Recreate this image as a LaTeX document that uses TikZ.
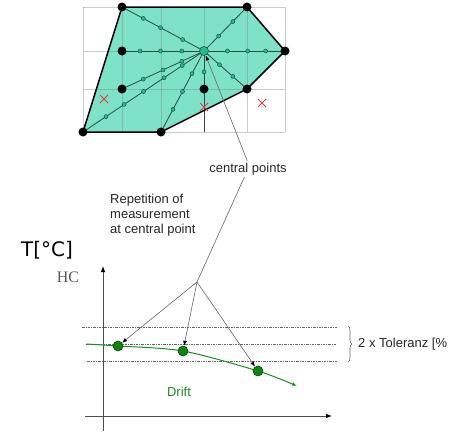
\documentclass[tikz,border=0pt]{standalone}
\usepackage{fontspec}
\setmainfont{Liberation Sans}
\newfontfamily\dvsans{DejaVu Sans}
\newfontfamily\lserif{Liberation Serif}
\usetikzlibrary{arrows.meta,decorations.pathreplacing,calc}
\definecolor{mint}{RGB}{125,226,200}
\definecolor{tealdot}{RGB}{40,185,140}
\definecolor{tealedge}{RGB}{20,90,70}
\definecolor{spokec}{RGB}{45,75,65}
\definecolor{driftc}{RGB}{30,140,30}
\definecolor{dotg}{RGB}{20,130,20}
\definecolor{dotgedge}{RGB}{0,80,0}
\definecolor{xred}{RGB}{230,60,60}
\tikzset{
  gridline/.style={draw=black!50, opacity=0.4, line width=0.9pt},
  spoke/.style={draw=spokec, line width=0.8pt},
  smalldot/.style={fill=tealdot, draw=tealedge, line width=0.5pt},
  bigdot/.style={circle, fill=black, inner sep=0pt, minimum size=9pt},
  ctrdot/.style={circle, fill=tealdot, draw=tealedge, line width=0.6pt, inner sep=0pt, minimum size=9pt},
  outline/.style={draw=black, line width=1.5pt, line join=round},
  redx/.style={draw=xred, line width=0.8pt},
  arr/.style={draw=black!60, line width=0.6pt, -{Latex[length=5pt,width=4pt,color=black]}},
  plainline/.style={draw=black!60, line width=0.6pt},
  axisline/.style={draw=black!70, line width=0.8pt, -{Latex[length=6pt,width=4.5pt,color=black]}},
  tolline/.style={draw=black!60, line width=0.6pt, dash pattern=on 2.5pt off 1pt on 1pt off 1pt},
  drift/.style={draw=driftc, line width=1pt, -{Latex[length=5pt,width=4pt]}},
  gdot/.style={circle, fill=dotg, draw=dotgedge, line width=0.6pt, inner sep=0pt, minimum size=10pt},
  lbl/.style={font=\fontsize{13}{15}\selectfont, text=black!85, inner sep=0pt},
}
\begin{document}
\begin{tikzpicture}[x=1pt,y=-1pt]
\useasboundingbox (0,0) rectangle (449,431);
% polygon corners
\coordinate (P1) at (122,7);
\coordinate (P2) at (247,7);
\coordinate (P3) at (285,51);
\coordinate (P4) at (247,89);
\coordinate (P5) at (161,132);
\coordinate (P6) at (83,132);
\coordinate (Q1) at (122,51);
\coordinate (Q2) at (122,89);
\coordinate (Q3) at (204,89);
\coordinate (C) at (204,51);
\fill[mint] (P1)--(P2)--(P3)--(P4)--(P5)--(P6)--cycle;
% grid
\foreach \x in {83,122,161,204,247,285} \draw[gridline] (\x,7)--(\x,132);
\foreach \y in {7,51,89,132} \draw[gridline] (83,\y)--(285,\y);
% spokes
\foreach \E/\fr in {P1/{0.26,0.53,0.74}, P2/{0.34,0.67}, Q1/{0.27,0.53,0.78}, P3/{0.29,0.54,0.76}, P4/{0.36,0.67}, Q3/{0.55}, P5/{0.28,0.5,0.72}, Q2/{0.27,0.5,0.74}, P6/{0.18,0.33,0.5,0.66,0.81}}{
  \draw[spoke] (C)--(\E);
  \foreach \f in \fr { \filldraw[smalldot] ($(C)!\f!(\E)$) circle (2); }
}
\draw[spoke] (Q3)--(204,132);
% outline
\draw[outline] (P1)--(P2)--(P3)--(P4)--(P5)--(P6)--cycle;
\foreach \p [count=\i] in {P1,P2,P3,P4,P5,P6,Q1,Q2,Q3} \node[bigdot] (bd\i) at (\p) {};
\node[ctrdot] (ctr) at (C) {};
% red crosses
\foreach \cx/\cy in {104/99, 204/107, 262/103}
  \draw[redx] (\cx-4,\cy-4)--(\cx+4,\cy+4) (\cx-4,\cy+4)--(\cx+4,\cy-4);
% labels
\node[lbl] (cp) at (248,169) {central points};
\node[lbl, anchor=west, align=left] (rep) at (110,215) {Repetition of\\measurement\\at central point};
\node[font=\dvsans\fontsize{20}{24}\selectfont, inner sep=0pt] (T) at (47,250) {T[°C]};
\node[font=\lserif\fontsize{16}{18}\selectfont, text=black!65, inner sep=0pt] (HC) at (68,277) {HC};
% leader to centre point
\draw[arr, shorten <=2pt] (cp.north) -- (ctr);
% axes
\coordinate (yb) at (103,431);
\coordinate (yt) at (103,266);
\coordinate (xl) at (85,416);
\coordinate (xr) at (332,416);
\draw[axisline] (yb)--(yt);
\draw[axisline] (xl)--(xr);
% tolerance band
\draw[tolline] (82,327)--(337,327);
\draw[tolline] (86,344)--(337,344);
\draw[tolline] (87,361)--(337,361);
\draw[decorate, decoration={brace, amplitude=4pt}, draw=black!60, line width=0.6pt] (348,326)--(348,362);
\node[lbl, anchor=west] (tol) at (358,344) {2 x Toleranz [\%};
% drift curve
\coordinate (g0) at (86,344);
\coordinate (g1) at (118,346);
\coordinate (g2) at (183,351);
\coordinate (g3) at (258,371);
\coordinate (g4) at (297,386);
\draw[drift] plot[smooth, tension=0.5] coordinates {(g0) (g1) (g2) (g3) (g4)};
\node[gdot] (d1) at (g1) {};
\node[gdot] (d2) at (g2) {};
\node[gdot] (d3) at (g3) {};
\node[lbl, text=driftc] (dl) at (179,392) {Drift};
% fan of arrows
\coordinate (fan) at (197,282);
\draw[plainline, shorten <=2pt] (cp) -- (fan);
\draw[arr] (fan)--(d1);
\draw[arr] (fan)--(d2);
\draw[arr] (fan)--(d3);
\end{tikzpicture}
\end{document}
